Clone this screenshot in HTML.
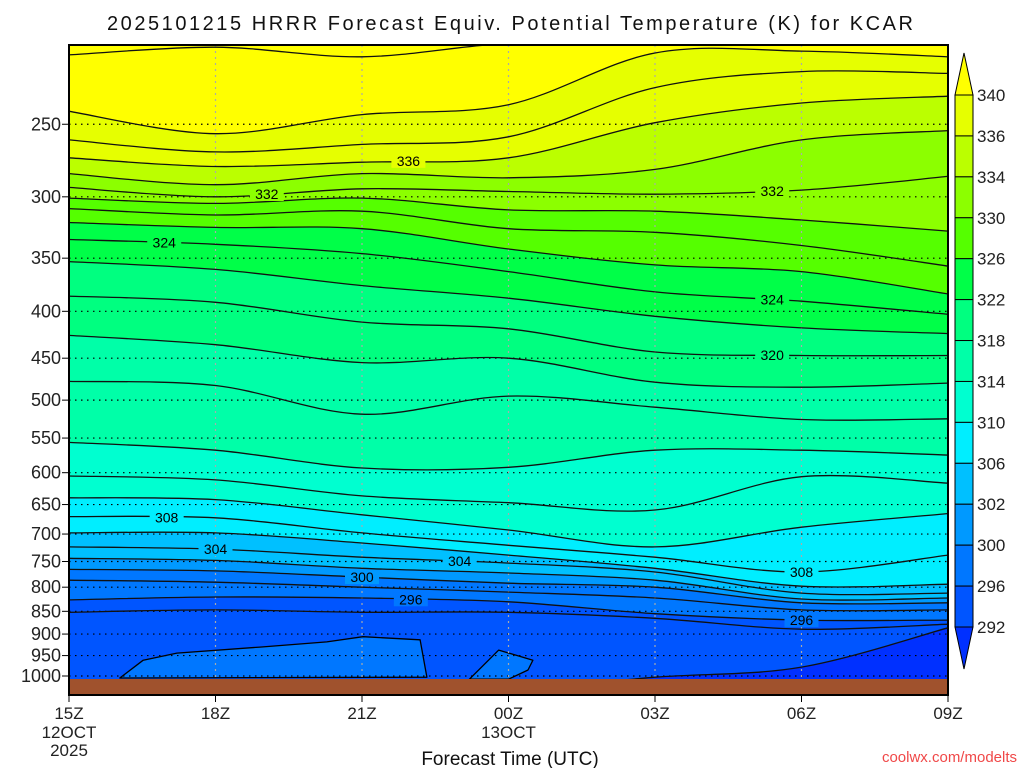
<!DOCTYPE html>
<html><head><meta charset="utf-8">
<style>
html,body{margin:0;padding:0;background:#fff;}
svg{display:block;font-family:"Liberation Sans",sans-serif;}
</style></head>
<body>
<svg id="chart" width="1024" height="768" viewBox="0 0 1024 768" xmlns="http://www.w3.org/2000/svg">
<defs><clipPath id="plotclip"><rect x="69" y="45" width="879" height="634"/></clipPath></defs>
<rect x="0" y="0" width="1024" height="768" fill="#fff"/>
<text x="510" y="30" text-anchor="middle" font-size="20" textLength="806" fill="#111">2025101215 HRRR Forecast Equiv. Potential Temperature (K) for KCAR</text>
<g id="fills" clip-path="url(#plotclip)"></g>
<g id="grid"></g>
<g id="lines" clip-path="url(#plotclip)"></g>
<g id="labels"></g>
<rect x="69" y="679" width="879" height="16" fill="#a0522d"/>
<rect x="69" y="45" width="879" height="650" fill="none" stroke="#000" stroke-width="2"/>
<g id="axes"></g>
<g id="cbar"></g>
<text x="510" y="765" text-anchor="middle" font-size="19" fill="#111">Forecast Time (UTC)</text>
<text x="1017" y="762" text-anchor="end" font-size="15" fill="#f04848">coolwx.com/modelts</text>
</svg>
<script>
// ---- data ----
const hours = [0, 3, 6, 9, 12, 15, 18];
const contourLevels = [292,294,296,298,300,302,304,306,308,310,312,314,316,318,320,322,324,326,328,330,332,334,336,338,340,342];
const p292 = [1036,1036,1036,1036,1003,978,886];
const p294 = [852,847,852,852,865,889,878];
const p296 = [826,820,822,830,855,869,869];
const p298 = [786,790,800,810,822,847,847];
const p300 = [765,768,780,792,800,832,832];
const p302 = [744,748,763,772,786,824,822];
const p304 = [723,727,742,753,770,812,812];
const p306 = [698,698,716,738,763,798,794];
const p308 = [670,672,698,720,742,770,738];
const p310 = [639,642,667,693,723,688,665];
const p312 = [605,611,636,647,659,606,616];
const p314 = [556,567,593,592,567,567,574];
const p316 = [477,482,518,495,509,525,524];
const p318 = [425,435,455,450,478,484,479];
const p320 = [385,391,411,418,443,447,447];
const p322 = [353,360,375,387,405,417,423];
const p324 = [334,338,346,362,381,390,403];
const p326 = [320,324,325,342,356,362,383];
const p328 = [309,314,311,325,328,339,357];
const p330 = [301,305,301,310,311,318,327];
const p332 = [293,300,294,296,298,295,285];
const p334 = [283,291,283,286,280,260,254];
const p336 = [272,278,275,272,249,237,233];
const p338 = [260,268,263,258,228,219,220];
const p340 = [242,256,244,238,209,208,211];
const p342 = [210,206,211,204,204,204,204];
const contourPressures = [p292,p294,p296,p298,p300,p302,p304,p306,p308,p310,p312,p314,p316,p318,p320,p322,p324,p326,p328,p330,p332,p334,p336,p338,p340,p342];
const blob1Hours = [1.04,1.52,2.21,3.91,5.28,6.02,7.19,7.33];
const blob1Press = [1005,961,944,930,918,906,913,1003];
const blob2Hours = [8.2,8.8,9.5,9.4,9.0];
const blob2Press = [1008,937,961,985,1008];
const fillLevels = [292,296,300,302,306,310,314,318,322,326,330,334,336,340];
const fillColors = ['#0055ff','#0077ff','#0099ff','#00c0ff','#00eeff','#00ffd0','#00ffa8','#00ff80','#00ff48','#55ff00','#8cff00','#bbff00','#e6ff00','#ffff00'];
const belowColor = '#0030ff';
const labelLevels = [336,332,324,308,304,300,296,332,324,320,308,304,296];
const labelHours = [6.95,4.05,1.95,2.0,3.0,6.0,7.0,14.4,14.4,14.4,15.0,8.0,15.0];
const pressureTicks = [250,300,350,400,450,500,550,600,650,700,750,800,850,900,950,1000];
const timeTickHours = [0,3,6,9,12,15,18];
const timeTickLabels = ['15Z','18Z','21Z','00Z','03Z','06Z','09Z'];
const timeSubLabels = ['12OCT','','','13OCT','','',''];
const cbarLabels = [340,336,334,330,326,322,318,314,310,306,302,300,296,292];
// ---- scales ----
const X0=69, X1=948;
function xs(h){ return X0 + h*(X1-X0)/18; }
function ys(p){ return 676 - 398*Math.log(1000/p); }
const NS='http://www.w3.org/2000/svg';
function mk(tag, attrs, parent){ const e=document.createElementNS(NS,tag); for(const k in attrs) e.setAttribute(k,attrs[k]); parent.appendChild(e); return e; }
const fills=document.getElementById('fills'), lines=document.getElementById('lines'), grid=document.getElementById('grid'), labs=document.getElementById('labels'), axes=document.getElementById('axes'), cbar=document.getElementById('cbar');
function ptsOf(arr){ return arr.map((p,i)=>[xs(hours[i]), ys(p)]); }
// smooth path segment (catmull-rom -> bezier), starting with 'L' to first pt
function smooth(P, cmd){
  let d=cmd+P[0][0].toFixed(1)+','+P[0][1].toFixed(1);
  for(let i=0;i<P.length-1;i++){
    const p0=P[Math.max(0,i-1)], p1=P[i], p2=P[i+1], p3=P[Math.min(P.length-1,i+2)];
    const c1=[p1[0]+(p2[0]-p0[0])/6, p1[1]+(p2[1]-p0[1])/6];
    const c2=[p2[0]-(p3[0]-p1[0])/6, p2[1]-(p3[1]-p1[1])/6];
    d+=' C'+c1[0].toFixed(1)+','+c1[1].toFixed(1)+' '+c2[0].toFixed(1)+','+c2[1].toFixed(1)+' '+p2[0].toFixed(1)+','+p2[1].toFixed(1);
  }
  return d;
}
let r=mk('rect',{x:69,y:45,width:879,height:650,fill:belowColor},fills);


fillLevels.forEach((lv,k)=>{
  const arr = contourPressures[contourLevels.indexOf(lv)];
  const P = ptsOf(arr);
  const d='M'+(X0-5)+','+P[0][1].toFixed(1)+' '+smooth(P,'L')+' L'+(X1+5)+','+P[P.length-1][1].toFixed(1)+' L'+(X1+5)+',0 L'+(X0-5)+',0 Z';
  const e=mk('path',{d:d,fill:fillColors[k]},fills);
  
  
  if(lv===296){
    [[blob1Hours,blob1Press],[blob2Hours,blob2Press]].forEach((b,bi)=>{
      const bd='M'+b[0].map((h,i)=>xs(h).toFixed(1)+','+ys(b[1][i]).toFixed(1)).join(' L')+' Z';
      const be=mk('path',{d:bd,fill:fillColors[k],stroke:'#000','stroke-width':1.3,'stroke-linejoin':'round'},fills);
      
      
    });
  }
});
pressureTicks.forEach(p=>{
  const y=ys(p);
  const g=mk('line',{x1:X0,x2:X1,y1:y,y2:y,stroke:'#000','stroke-width':1.2,'stroke-dasharray':'1.5,4.5'},grid);
  
  
});
timeTickHours.forEach(h=>{
  const x=xs(h);
  const g=mk('line',{x1:x,x2:x,y1:45,y2:679,stroke:'#aaa','stroke-width':1.2,'stroke-dasharray':'2,4'},grid);
  
  
});
contourPressures.forEach((arr,i)=>{
  const e=mk('path',{d:smooth(ptsOf(arr),'M'),fill:'none',stroke:'#111','stroke-width':1.3},lines);
  
  
});
function interp(arr,h){ for(let i=0;i<hours.length-1;i++){ if(h>=hours[i]&&h<=hours[i+1]){ const t=(h-hours[i])/(hours[i+1]-hours[i]); return Math.exp(Math.log(arr[i])*(1-t)+Math.log(arr[i+1])*t);} } return arr[arr.length-1]; }
function colorAt(lv){ let c=belowColor; fillLevels.forEach((f,k)=>{ if(lv>=f) c=fillColors[k]; }); return c; }
labelLevels.forEach((lv,i)=>{
  const arr=contourPressures[contourLevels.indexOf(lv)];
  const x=xs(labelHours[i]), y=ys(interp(arr,labelHours[i]));
  const bg=mk('rect',{x:x-17,y:y-7,width:34,height:14,fill:colorAt(lv)},labs);
  
  
  const t=mk('text',{x:x,y:y+5,'text-anchor':'middle','font-size':14,fill:'#000'},labs);
  t.textContent=lv;
  
  
});
pressureTicks.forEach(p=>{
  const y=ys(p);
  const tk=mk('line',{x1:62,x2:69,y1:y,y2:y,stroke:'#000','stroke-width':1},axes);
  
  
  const t=mk('text',{x:61,y:y+6,'text-anchor':'end','font-size':18,fill:'#222'},axes);
  t.textContent=p;
  
  
});
timeTickHours.forEach((h,i)=>{
  const x=xs(h);
  const tk=mk('line',{x1:x,x2:x,y1:695,y2:702,stroke:'#000','stroke-width':1},axes);
  
  
  const t=mk('text',{x:x,y:719,'text-anchor':'middle','font-size':17,fill:'#222'},axes);
  t.textContent=timeTickLabels[i];
  
  
  if(timeSubLabels[i]){
    const s=mk('text',{x:x,y:738,'text-anchor':'middle','font-size':17,fill:'#222'},axes);
    s.textContent=timeSubLabels[i];
    
    
  }
});
const yr=mk('text',{x:xs(0),y:756,'text-anchor':'middle','font-size':17,fill:'#222'},axes);
yr.textContent='2025';


const CB_X=955, CB_W=18, CB_TOP=95, CB_BOT=627;
const nb=cbarLabels.length-1, bh=(CB_BOT-CB_TOP)/nb;
for(let k=0;k<nb;k++){
  const lvLow=cbarLabels[k+1];
  const b=mk('rect',{x:CB_X,y:CB_TOP+k*bh,width:CB_W,height:bh,fill:fillColors[fillLevels.indexOf(lvLow)],stroke:'#000','stroke-width':1},cbar);
  
  
}
const tt=mk('polygon',{points:`${CB_X},${CB_TOP} ${CB_X+CB_W},${CB_TOP} ${CB_X+CB_W/2},${CB_TOP-42}`,fill:fillColors[fillColors.length-1],stroke:'#000','stroke-width':1},cbar);


const bt=mk('polygon',{points:`${CB_X},${CB_BOT} ${CB_X+CB_W},${CB_BOT} ${CB_X+CB_W/2},${CB_BOT+42}`,fill:belowColor,stroke:'#000','stroke-width':1},cbar);


cbarLabels.forEach((lv,k)=>{
  const y=CB_TOP+k*bh;
  const t=mk('text',{x:977,y:y+6,'font-size':17,fill:'#222'},cbar);
  t.textContent=lv;
  
  
});
</script>
</body></html>
